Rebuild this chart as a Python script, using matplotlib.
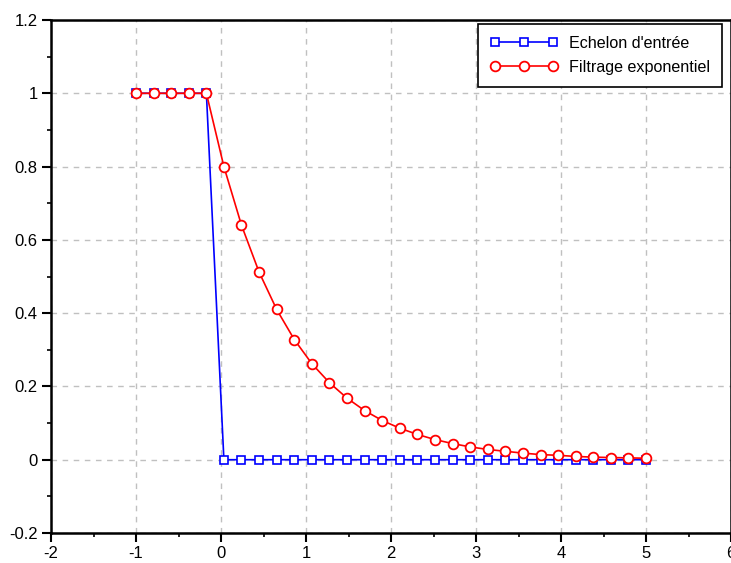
import numpy as np
import matplotlib
matplotlib.use('Agg')
import matplotlib.pyplot as plt
from matplotlib.ticker import MultipleLocator

plt.rcParams['font.family'] = ['Liberation Sans', 'DejaVu Sans']

# sample times
t = [-1.0, -0.793, -0.586, -0.379, -0.172, 0.034, 0.241, 0.448, 0.655, 0.862,
     1.069, 1.276, 1.483, 1.690, 1.897, 2.103, 2.310, 2.517, 2.724, 2.931,
     3.138, 3.345, 3.552, 3.759, 3.966, 4.172, 4.379, 4.586, 4.793, 5.0]

# input step
echelon = [1, 1, 1, 1, 1] + [0] * 25

# filtered output
filtre = [1, 1, 1, 1, 1,
          0.8, 0.64, 0.512, 0.41, 0.328, 0.262, 0.21, 0.168, 0.134, 0.107,
          0.086, 0.069, 0.055, 0.044, 0.035, 0.028, 0.023, 0.018, 0.014, 0.012,
          0.009, 0.007, 0.006, 0.005, 0.004]

xticks = [-2, -1, 0, 1, 2, 3, 4, 5, 6]
yticks = [-0.2, 0, 0.2, 0.4, 0.6, 0.8, 1, 1.2]
ylabels = ['-0.2', '0', '0.2', '0.4', '0.6', '0.8', '1', '1.2']

fig = plt.figure(figsize=(7.31, 5.63), dpi=100)
ax = fig.add_axes([51 / 731, 30 / 563, 680 / 731, 513 / 563])

ax.plot(t, echelon, color='blue', lw=1.2, marker='s', ms=6.3,
        mfc='white', mec='blue', mew=1.2, label="Echelon d'entrée")
ax.plot(t, filtre, color='red', lw=1.2, marker='o', ms=7,
        mfc='white', mec='red', mew=1.3, label='Filtrage exponentiel')

ax.set_xlim(-2, 6)
ax.set_ylim(-0.2, 1.2)
ax.set_xticks(xticks)
ax.set_xticklabels([str(v) for v in xticks])
ax.set_yticks(yticks)
ax.set_yticklabels(ylabels)
ax.xaxis.set_minor_locator(MultipleLocator(0.5))
ax.yaxis.set_minor_locator(MultipleLocator(0.1))
ax.tick_params(which='major', direction='out', length=6.5, width=1.5,
               labelsize=12, pad=3)
ax.tick_params(which='minor', direction='out', length=3, width=1.2)

ax.grid(True, which='major', color='#c0c0c0', linestyle=(0, (4, 4)), lw=1)
ax.set_axisbelow(True)

for s in ax.spines.values():
    s.set_linewidth(1.8)
    s.set_color('black')

# legend box: right edge at 722 px, top at 24 px
leg = ax.legend(loc='upper right', numpoints=3, fontsize=11.6, fancybox=False,
                framealpha=1, edgecolor='black', borderaxespad=0,
                handlelength=4.2, handletextpad=0.7, borderpad=0.75,
                labelspacing=0.55, bbox_to_anchor=(722 / 731, 1 - 24 / 563),
                bbox_transform=fig.transFigure)
leg.get_frame().set_linewidth(1.2)

fig.savefig('out.png', dpi=100)
